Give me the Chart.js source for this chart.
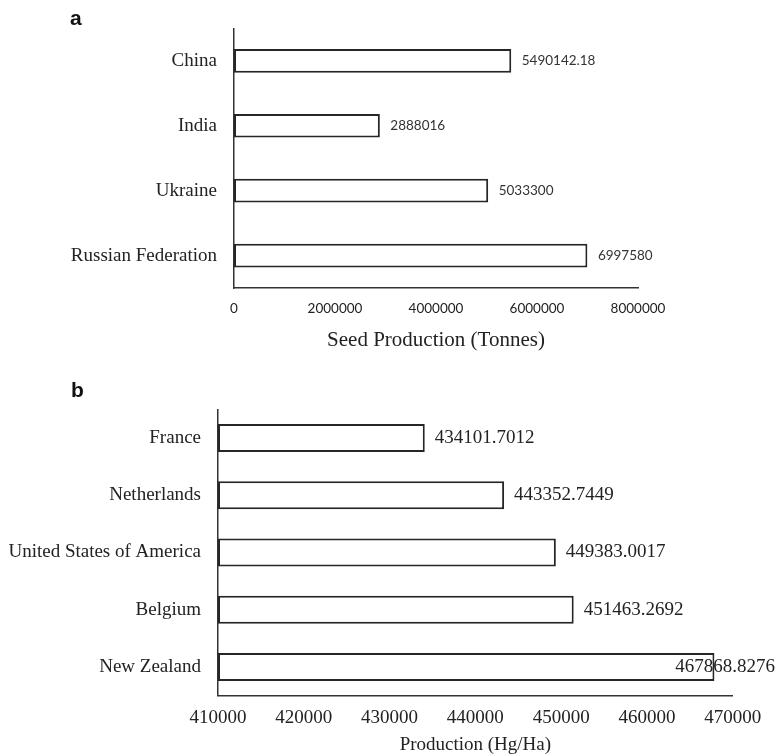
<!DOCTYPE html>
<html>
<head>
<meta charset="utf-8">
<script src="https://cdn.jsdelivr.net/npm/chart.js@4.4.1/dist/chart.umd.min.js"></script>
<style>
  html, body { margin: 0; padding: 0; background: #fff; }
  #wrap { position: relative; width: 777px; height: 755px; overflow: hidden; }
  #seedChart { position: absolute; left: 0; top: 0; }
  #yieldChart { position: absolute; left: 0; top: 355px; }
</style>
</head>
<body>
<div id="wrap">
  <canvas id="seedChart" width="777" height="355"></canvas>
  <canvas id="yieldChart" width="777" height="400"></canvas>
</div>
<script>
// Panel a: seed production by country
const seedCountries = ['China', 'India', 'Ukraine', 'Russian Federation'];
const seedTonnes = [5490142.18, 2888016, 5033300, 6997580];
const seedTicks = [0, 2000000, 4000000, 6000000, 8000000];

// Panel b: production per hectare by country
const yieldCountries = ['France', 'Netherlands', 'United States of America', 'Belgium', 'New Zealand'];
const yieldHgHa = [434101.7012, 443352.7449, 449383.0017, 451463.2692, 467868.8276];
const yieldTicks = [410000, 420000, 430000, 440000, 450000, 460000, 470000];

const INK = '#222';
const AXIS = '#333';
const SERIF = '"Liberation Serif", "Times New Roman", serif';
const SANS = 'Lato, "Open Sans", sans-serif';

// Writes each bar's value just past its end; keeps the text inside the canvas.
const valueLabels = {
  id: 'valueLabels',
  afterDatasetsDraw(chart, args, opts) {
    const ctx = chart.ctx;
    const meta = chart.getDatasetMeta(0);
    const values = chart.data.datasets[0].data;
    ctx.save();
    ctx.font = opts.font;
    ctx.fillStyle = opts.color;
    ctx.textAlign = 'left';
    ctx.textBaseline = 'middle';
    meta.data.forEach((bar, i) => {
      const text = String(values[i]);
      const w = ctx.measureText(text).width;
      let x = bar.x + opts.offset;
      if (x + w > chart.width - opts.edge) x = chart.width - opts.edge - w;
      ctx.fillText(text, x, bar.y + (opts.dy || 0));
    });
    ctx.restore();
  }
};

// Panel letter in the top-left corner.
const panelTag = {
  id: 'panelTag',
  afterDraw(chart, args, opts) {
    const ctx = chart.ctx;
    ctx.save();
    ctx.font = 'bold 21px "Liberation Sans", Arial, sans-serif';
    ctx.fillStyle = '#111';
    ctx.textAlign = 'left';
    ctx.textBaseline = 'alphabetic';
    ctx.fillText(opts.text, opts.x, opts.y);
    ctx.restore();
  }
};

function barChart(canvasId, cfg) {
  return new Chart(document.getElementById(canvasId), {
    type: 'bar',
    data: {
      labels: cfg.labels,
      datasets: [{
        data: cfg.values,
        base: cfg.ticks[0],
        backgroundColor: '#fff',
        borderColor: '#262626',
        borderWidth: 2,
        borderSkipped: false,
        barPercentage: cfg.barPct,
        categoryPercentage: 1
      }]
    },
    options: {
      indexAxis: 'y',
      responsive: false,
      animation: false,
      events: [],
      layout: { padding: cfg.padding },
      plugins: {
        legend: { display: false },
        tooltip: { enabled: false },
        valueLabels: cfg.valueLabels,
        panelTag: cfg.tag
      },
      scales: {
        x: {
          type: 'linear',
          min: cfg.ticks[0],
          max: cfg.ticks[cfg.ticks.length - 1],
          afterBuildTicks: s => { s.ticks = cfg.ticks.map(v => ({ value: v })); },
          afterFit: s => { s.height = cfg.xHeight; },
          grid: { display: false, drawTicks: false },
          border: { display: true, color: AXIS, width: 1.5 },
          ticks: {
            font: cfg.tickFont,
            color: INK,
            padding: cfg.tickPad,
            maxRotation: 0,
            autoSkip: false,
            callback: v => String(v)
          },
          title: {
            display: true,
            text: cfg.title,
            color: INK,
            font: cfg.titleFont,
            padding: { top: 0, bottom: cfg.titlePad }
          }
        },
        y: {
          afterFit: s => { s.width = cfg.yWidth; },
          grid: { display: false, drawTicks: false },
          border: { display: true, color: AXIS, width: 1.5 },
          ticks: {
            font: { family: SERIF, size: 19 },
            color: INK,
            padding: 17
          }
        }
      }
    },
    plugins: [valueLabels, panelTag]
  });
}

function draw() {
  barChart('seedChart', {
    labels: seedCountries,
    values: seedTonnes,
    ticks: seedTicks,
    barPct: 0.365,
    padding: { left: 0, top: 25, right: 139, bottom: 0 },
    xHeight: 67,
    yWidth: 234,
    tickFont: { family: SANS, size: 13.5 },
    tickPad: 13,
    title: 'Seed Production (Tonnes)',
    titleFont: { family: SERIF, size: 21 },
    titlePad: 2.4,
    valueLabels: { font: '13.5px ' + SANS, color: '#333', offset: 10.5, edge: 2 },
    tag: { text: 'a', x: 70, y: 25 }
  });

  barChart('yieldChart', {
    labels: yieldCountries,
    values: yieldHgHa,
    ticks: yieldTicks,
    barPct: 0.49,
    padding: { left: 0, top: 54.3, right: 44.3, bottom: 0 },
    xHeight: 59.3,
    yWidth: 218,
    tickFont: { family: SERIF, size: 19 },
    tickPad: 10.6,
    title: 'Production (Hg/Ha)',
    titleFont: { family: SERIF, size: 19, lineHeight: 1 },
    titlePad: 0.2,
    valueLabels: { font: '19px ' + SERIF, color: INK, offset: 10, edge: 2 },
    tag: { text: 'b', x: 71, y: 41.7 }
  });
}

if (document.fonts && document.fonts.load) {
  Promise.all([
    document.fonts.load('13.5px Lato'),
    document.fonts.load('19px "Liberation Serif"'),
    document.fonts.load('bold 21px "Liberation Sans"')
  ]).then(draw, draw);
} else {
  draw();
}
</script>
</body>
</html>
